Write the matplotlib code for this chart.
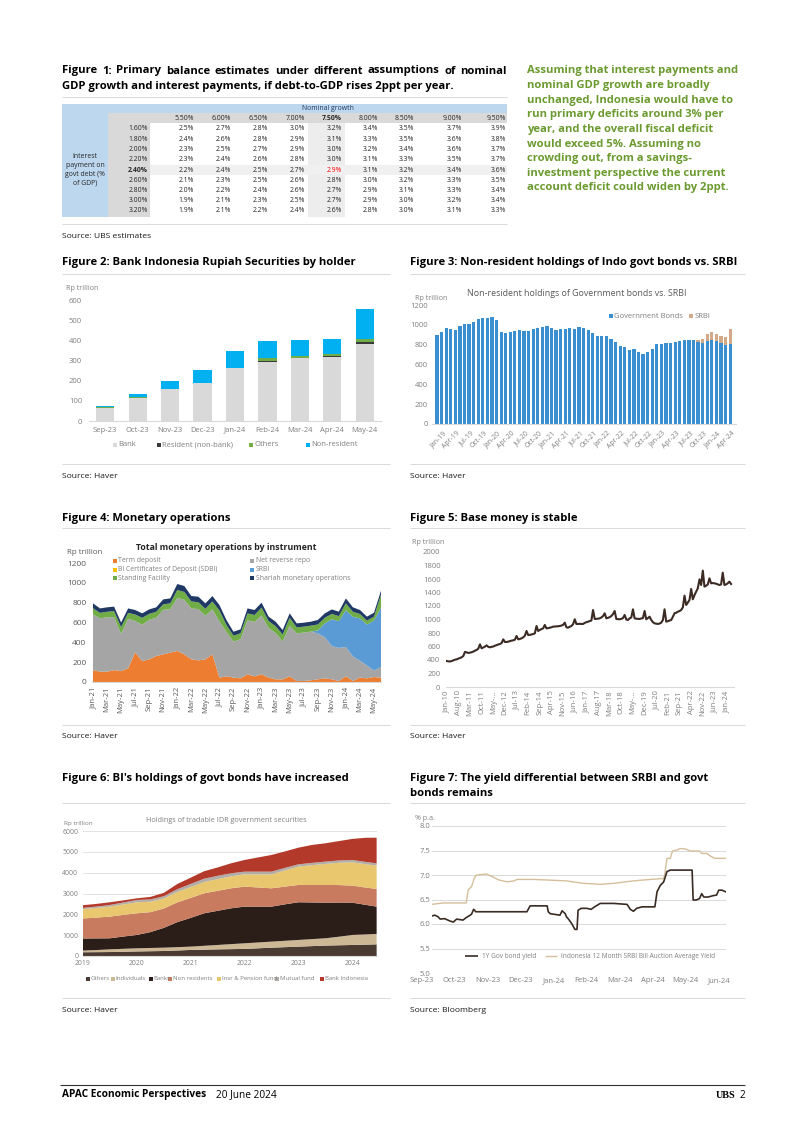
import matplotlib
matplotlib.use('Agg')
import matplotlib.pyplot as plt
import numpy as np
import calendar
from matplotlib.patches import Rectangle
from matplotlib.transforms import blended_transform_factory, ScaledTranslation

# ======================= DATA =======================
# Figure 1 table
growth_labels = ['5.50%', '6.00%', '6.50%', '7.00%', '7.50%', '8.00%', '8.50%', '9.00%', '9.50%']
interest_labels = ['1.60%', '1.80%', '2.00%', '2.20%', '2.40%', '2.60%', '2.80%', '3.00%', '3.20%']
primary_balance = [
    [2.5, 2.7, 2.8, 3.0, 3.2, 3.4, 3.5, 3.7, 3.9],
    [2.4, 2.6, 2.8, 2.9, 3.1, 3.3, 3.5, 3.6, 3.8],
    [2.3, 2.5, 2.7, 2.9, 3.0, 3.2, 3.4, 3.6, 3.7],
    [2.3, 2.4, 2.6, 2.8, 3.0, 3.1, 3.3, 3.5, 3.7],
    [2.2, 2.4, 2.5, 2.7, 2.9, 3.1, 3.2, 3.4, 3.6],
    [2.1, 2.3, 2.5, 2.6, 2.8, 3.0, 3.2, 3.3, 3.5],
    [2.0, 2.2, 2.4, 2.6, 2.7, 2.9, 3.1, 3.3, 3.4],
    [1.9, 2.1, 2.3, 2.5, 2.7, 2.9, 3.0, 3.2, 3.4],
    [1.9, 2.1, 2.2, 2.4, 2.6, 2.8, 3.0, 3.1, 3.3],
]
highlight_growth = '7.50%'
highlight_interest = '2.40%'

side_text = ["Assuming that interest payments and",
             "nominal GDP growth are broadly",
             "unchanged, Indonesia would have to",
             "run primary deficits around 3% per",
             "year, and the overall fiscal deficit",
             "would exceed 5%. Assuming no",
             "crowding out, from a savings-",
             "investment perspective the current",
             "account deficit could widen by 2ppt."]

# Figure 2
f2_months = ['Sep-23', 'Oct-23', 'Nov-23', 'Dec-23', 'Jan-24', 'Feb-24', 'Mar-24', 'Apr-24', 'May-24']
f2_bank = [66, 116, 158, 189, 263, 295, 310, 318, 382]
f2_resident = [0, 0, 0, 0, 0, 3, 3, 3, 11]
f2_others = [1, 1, 1, 1, 2, 13, 9, 10, 12]
f2_nonres = [5, 15, 39, 62, 84, 87, 81, 78, 150]

# Figure 3 (monthly Jan-19 .. May-24)
f3_gov_bonds = [895, 925, 965, 960, 945, 985, 1010, 1005, 1025, 1055, 1065, 1065,
                1075, 1045, 925, 920, 930, 935, 945, 935, 935, 955, 965, 975,
                985, 970, 950, 960, 955, 970, 960, 975, 965, 945, 920, 890,
                885, 890, 855, 825, 790, 780, 750, 760, 730, 705, 725, 760,
                805, 805, 815, 820, 825, 840, 850, 850, 845, 825, 815, 840,
                845, 840, 815, 795, 805]
f3_srbi = [0, 0, 0, 0, 0, 0, 0, 0, 0, 0, 0, 0,
           0, 0, 0, 0, 0, 0, 0, 0, 0, 0, 0, 0,
           0, 0, 0, 0, 0, 0, 0, 0, 0, 0, 0, 0,
           0, 0, 0, 0, 0, 0, 0, 0, 0, 0, 0, 0,
           0, 0, 0, 0, 0, 0, 0, 0, 0, 20, 45, 70,
           80, 65, 75, 80, 150]
f3_tick_labels = ['Jan-19', 'Apr-19', 'Jul-19', 'Oct-19', 'Jan-20', 'Apr-20', 'Jul-20', 'Oct-20',
                  'Jan-21', 'Apr-21', 'Jul-21', 'Oct-21', 'Jan-22', 'Apr-22', 'Jul-22', 'Oct-22',
                  'Jan-23', 'Apr-23', 'Jul-23', 'Oct-23', 'Jan-24', 'Apr-24']

# Figure 4 (monthly Jan-21 .. Jun-24)
f4_term_deposit = [120, 104, 104, 120, 110, 138, 300, 211, 228, 262, 279, 296,
                   313, 279, 228, 218, 228, 279, 44, 57, 44, 37, 77, 57,
                   77, 44, 27, 27, 57, 10, 10, 17, 27, 37, 27, 10,
                   57, 10, 44, 37, 50, 44]
f4_net_reverse_repo = [563, 538, 549, 535, 374, 499, 316, 366, 399, 386, 449, 437,
                       535, 549, 514, 517, 440, 453, 567, 448, 363, 394, 545, 549,
                       593, 500, 466, 382, 510, 481, 488, 491, 463, 415, 335, 334,
                       296, 248, 170, 129, 65, 106]
f4_sdbi = [0, 0, 0, 0, 0, 0, 0, 0, 0, 0, 0, 0, 0, 0, 0, 0, 0, 0, 0, 0, 0,
           0, 0, 0, 0, 0, 0, 0, 0, 0, 0, 0, 0, 0, 0, 0, 0, 0, 0, 0, 0, 0]
f4_srbi = [0, 0, 0, 0, 0, 0, 0, 0, 0, 0, 0, 0, 0, 0, 0, 0, 0, 0, 0, 0, 0,
           0, 0, 0, 0, 0, 0, 0, 0, 0, 0, 0, 30, 140, 270, 270, 370, 400, 427, 413, 504, 600]
f4_standing_facility = [60, 55, 55, 60, 70, 60, 65, 70, 60, 60, 55, 60,
                        80, 80, 70, 70, 70, 80, 110, 70, 60, 60, 70, 70,
                        80, 70, 70, 70, 80, 60, 60, 60, 60, 55, 55, 50,
                        70, 50, 45, 40, 40, 130]
f4_shariah = [50, 45, 45, 45, 45, 45, 45, 45, 45, 45, 50, 50,
              60, 60, 55, 55, 55, 55, 55, 50, 40, 40, 50, 50,
              50, 45, 45, 45, 45, 40, 40, 40, 45, 45, 45, 45,
              50, 45, 40, 40, 40, 40]
f4_tick_labels = ['Jan-21', 'Mar-21', 'May-21', 'Jul-21', 'Sep-21', 'Nov-21', 'Jan-22', 'Mar-22',
                  'May-22', 'Jul-22', 'Sep-22', 'Nov-22', 'Jan-23', 'Mar-23', 'May-23', 'Jul-23',
                  'Sep-23', 'Nov-23', 'Jan-24', 'Mar-24', 'May-24']

# Figure 5 (monthly Jan-10 .. Apr-24)
f5_base_money = [385, 380, 378, 385, 395, 405, 410, 420, 430, 440, 460, 520,
                 512, 505, 509, 515, 525, 538, 550, 568, 632, 573, 585, 598,
                 617, 595, 588, 595, 600, 612, 620, 630, 637, 650, 706, 667,
                 667, 672, 680, 687, 692, 700, 756, 706, 712, 721, 735, 760,
                 830, 770, 772, 778, 785, 795, 904, 830, 845, 858, 869, 919,
                 869, 872, 878, 885, 894, 896, 898, 900, 904, 910, 920, 953,
                 884, 880, 892, 904, 930, 1003, 934, 934, 936, 934, 934, 950,
                 960, 968, 975, 985, 1141, 1008, 1010, 1012, 1017, 1030, 1050, 1092,
                 1017, 1025, 1035, 1052, 1080, 1126, 1008, 1005, 1003, 1010, 1020, 1067,
                 1000, 993, 1017, 1030, 1151, 1017, 1012, 1010, 1008, 1015, 1020, 1126,
                 1003, 1020, 1042, 993, 960, 943, 938, 934, 940, 953, 993, 1151,
                 968, 975, 985, 993, 1040, 1092, 1100, 1116, 1125, 1141, 1180, 1353,
                 1215, 1250, 1289, 1452, 1299, 1360, 1413, 1462, 1595, 1511, 1724, 1487,
                 1500, 1520, 1610, 1536, 1540, 1536, 1530, 1521, 1511, 1520, 1694, 1511,
                 1520, 1536, 1561, 1526]
f5_tick_labels = ['Jan-10', 'Aug-10', 'Mar-11', 'Oct-11', 'May-...', 'Dec-12', 'Jul-13', 'Feb-14',
                  'Sep-14', 'Apr-15', 'Nov-15', 'Jun-16', 'Jan-17', 'Aug-17', 'Mar-18', 'Oct-18',
                  'May-...', 'Dec-19', 'Jul-20', 'Feb-21', 'Sep-21', 'Apr-22', 'Nov-22', 'Jun-23', 'Jan-24']

# Figure 6 (Rp trillion, quarterly readings)
f6_dates = ['2019-01-01', '2019-04-01', '2019-07-01', '2019-10-01', '2020-01-01', '2020-04-01',
            '2020-07-01', '2020-10-01', '2021-01-01', '2021-04-01', '2021-07-01', '2021-10-01',
            '2022-01-01', '2022-04-01', '2022-07-01', '2022-10-01', '2023-01-01', '2023-04-01',
            '2023-07-01', '2023-10-01', '2024-01-01', '2024-04-01', '2024-06-14']
f6_others = [180, 185, 190, 205, 220, 230, 240, 265, 290, 305, 320, 330,
             340, 370, 400, 425, 450, 475, 500, 515, 530, 545, 560]
f6_individuals = [80, 100, 130, 140, 150, 155, 160, 160, 160, 185, 210, 240,
                  270, 280, 290, 305, 320, 335, 350, 410, 480, 490, 500]
f6_banks = [580, 560, 530, 590, 640, 760, 950, 1200, 1380, 1560, 1640, 1720,
            1760, 1720, 1680, 1750, 1810, 1760, 1710, 1640, 1550, 1420, 1310]
f6_non_residents = [960, 1000, 1040, 1040, 1040, 960, 930, 950, 960, 960, 960, 960,
                    960, 920, 880, 850, 830, 840, 850, 840, 820, 830, 850]
f6_insurance_pension = [450, 460, 480, 500, 530, 500, 480, 500, 520, 540, 560, 575,
                        590, 630, 670, 780, 880, 950, 1010, 1070, 1120, 1120, 1120]
f6_mutual_fund = [60, 70, 80, 95, 110, 110, 110, 130, 150, 160, 160, 145,
                  130, 130, 130, 120, 110, 110, 110, 110, 110, 110, 110]
f6_bank_indonesia = [130, 125, 130, 100, 80, 120, 160, 250, 300, 360, 400, 480,
                     560, 680, 800, 790, 800, 860, 880, 930, 1010, 1160, 1230]
f6_years = ['2019', '2020', '2021', '2022', '2023', '2024']

# Figure 7 (% p.a.)
f7_gov_dates = ['2023-09-10', '2023-09-13', '2023-09-16', '2023-09-18', '2023-09-22', '2023-09-27',
                '2023-09-30', '2023-10-03', '2023-10-06', '2023-10-09', '2023-10-12', '2023-10-15',
                '2023-10-17', '2023-10-19', '2023-10-21', '2023-12-07', '2023-12-10', '2023-12-26',
                '2023-12-27', '2023-12-29', '2024-01-04', '2024-01-07', '2024-01-09', '2024-01-12',
                '2024-01-13', '2024-01-15', '2024-01-18', '2024-01-21', '2024-01-23', '2024-01-24',
                '2024-01-27', '2024-02-01', '2024-02-05', '2024-02-08', '2024-02-13', '2024-02-25',
                '2024-03-08', '2024-03-11', '2024-03-14', '2024-03-17', '2024-03-22', '2024-04-03',
                '2024-04-05', '2024-04-08', '2024-04-11', '2024-04-12', '2024-04-14', '2024-04-17',
                '2024-05-07', '2024-05-08', '2024-05-11', '2024-05-14', '2024-05-16', '2024-05-18',
                '2024-05-22', '2024-05-27', '2024-05-30', '2024-06-01', '2024-06-04', '2024-06-07']
f7_gov_yield = [6.16, 6.18, 6.15, 6.10, 6.11, 6.06, 6.04, 6.10, 6.09, 6.08, 6.13, 6.17,
                6.20, 6.30, 6.25, 6.25, 6.37, 6.37, 6.25, 6.21, 6.19, 6.18, 6.27, 6.21,
                6.15, 6.10, 6.01, 5.89, 5.89, 6.28, 6.32, 6.32, 6.30, 6.35, 6.42, 6.42,
                6.40, 6.30, 6.26, 6.32, 6.35, 6.35, 6.66, 6.79, 6.86, 6.93, 7.07, 7.10,
                7.10, 6.49, 6.49, 6.52, 6.62, 6.55, 6.55, 6.58, 6.59, 6.69, 6.69, 6.66]
f7_srbi_dates = ['2023-09-10', '2023-09-21', '2023-10-12', '2023-10-14', '2023-10-17', '2023-10-20',
                 '2023-10-22', '2023-10-31', '2023-11-06', '2023-11-11', '2023-11-19', '2023-11-25',
                 '2023-11-28', '2023-12-13', '2024-01-13', '2024-01-29', '2024-02-13', '2024-02-25',
                 '2024-03-14', '2024-03-30', '2024-04-11', '2024-04-12', '2024-04-14', '2024-04-17',
                 '2024-04-19', '2024-04-23', '2024-04-26', '2024-05-01', '2024-05-05', '2024-05-14',
                 '2024-05-16', '2024-05-21', '2024-05-24', '2024-05-28', '2024-06-07']
f7_srbi_yield = [6.40, 6.43, 6.43, 6.70, 6.76, 6.96, 7.00, 7.02, 6.96, 6.90, 6.86, 6.88,
                 6.91, 6.91, 6.88, 6.83, 6.81, 6.83, 6.88, 6.91, 6.93, 7.02, 7.34, 7.34,
                 7.49, 7.51, 7.54, 7.53, 7.49, 7.49, 7.44, 7.44, 7.39, 7.34, 7.34]
f7_tick_labels = ['Sep-23', 'Oct-23', 'Nov-23', 'Dec-23', 'Jan-24', 'Feb-24', 'Mar-24',
                  'Apr-24', 'May-24', 'Jun-24']

# ======================= PAGE SETUP =======================
W, H = 802, 1134
plt.rcParams['font.family'] = ['Open Sans', 'DejaVu Sans']
fig = plt.figure(figsize=(W / 100, H / 100), dpi=100)
fig.patch.set_facecolor('white')
page = fig.add_axes([0, 0, 1, 1], zorder=10)
page.set_xlim(0, W)
page.set_ylim(H, 0)
page.axis('off')
R = fig.canvas.get_renderer()


def tw(s, fs, weight='normal'):
    t = page.text(0, 0, s, fontsize=fs, fontweight=weight)
    w = t.get_window_extent(R).width
    t.remove()
    return w


def fit(s, target, weight='normal'):
    return 10.0 * target / tw(s, 10, weight)


def T(x, y, s, fs, weight='normal', color='#000000', ha='left', va='center', **kw):
    return page.text(x, y, s, fontsize=fs, fontweight=weight, color=color, ha=ha, va=va, **kw)


def hline(x0, x1, y, color='#D9D9D9', lw=0.7):
    page.plot([x0, x1], [y, y], color=color, lw=lw, solid_capstyle='butt')


def px_axes(x0, y0, x1, y1):
    ax = fig.add_axes([x0 / W, 1 - y1 / H, (x1 - x0) / W, (y1 - y0) / H])
    ax.set_facecolor('none')
    for s in ax.spines.values():
        s.set_visible(False)
    ax.tick_params(length=0)
    return ax


def leg_sq(x, y, color, label, fs, size=4.0, gap=1.5, tcolor='#595959'):
    page.add_patch(Rectangle((x - size / 2, y - size / 2), size, size, color=color, lw=0))
    T(x + size / 2 + gap, y, label, fs, color=tcolor)


def leg_line(x0, x1, y, color, label, fs, lw=1.3, tcolor='#7F7F7F'):
    page.plot([x0, x1], [y, y], color=color, lw=lw, solid_capstyle='butt')
    T(x1 + 4, y, label, fs, color=tcolor)


def month_pos(d, y0=2023, m0=9):
    y, m, dd = (int(v) for v in d.split('-'))
    return (y - y0) * 12 + (m - m0) + (dd - 1) / calendar.monthrange(y, m)[1]


def year_frac(d):
    y, m, dd = (int(v) for v in d.split('-'))
    return y + (m - 1) / 12 + (dd - 1) / 365


title_fs = fit('Figure 2: Bank Indonesia Rupiah Securities by holder', 295, 'bold')
src_fs = fit('Source: Haver', 55)
tick_fs = fit('Sep-23', 24)
small_fs = fit('Rp trillion', 32)
table_fs = fit('1.60%', 19.5)
green_fs = fit('Assuming that interest payments and', 213, 'bold')
GREY = '#7F7F7F'
DGREY = '#595959'

# ======================= FIGURE 1 =======================
words = 'Figure 1: Primary balance estimates under different assumptions of nominal'.split()
widths = [tw(w, title_fs, 'bold') for w in words]
gap = (507 - 62 - sum(widths)) / (len(words) - 1)
x = 62
for w, wd in zip(words, widths):
    T(x, 71, w, title_fs, 'bold')
    x += wd + gap
T(62, 86, 'GDP growth and interest payments, if debt-to-GDP rises 2ppt per year.', title_fs, 'bold')
hline(62, 507, 97)

BLUE = '#BDD7EE'
TGREY = '#D9D9D9'
page.add_patch(Rectangle((62, 104), 445, 9, color=BLUE, lw=0))
page.add_patch(Rectangle((62, 113), 46, 104, color=BLUE, lw=0))
page.add_patch(Rectangle((108, 113), 399, 10, color=TGREY, lw=0))
page.add_patch(Rectangle((108, 123), 42, 94, color=TGREY, lw=0))
col_right = [194, 231, 268, 305, 342, 378, 414, 462, 506]
row_y = [129 + 10.25 * i for i in range(len(interest_labels))]
hc = growth_labels.index(highlight_growth)
hr = interest_labels.index(highlight_interest)
page.add_patch(Rectangle((308, 123), 37, 94, color='#EDEDED', lw=0))
page.add_patch(Rectangle((150, row_y[hr] - 5.1), 357, 10.2, color='#F0F0F0', lw=0))
T(328, 108.5, 'Nominal growth', table_fs, color='#1F3864', ha='center')
for j, g in enumerate(growth_labels):
    T(col_right[j], 118, g, table_fs, weight='bold' if j == hc else 'normal', color='#262626', ha='right')
for i, lab in enumerate(interest_labels):
    T(148, row_y[i], lab, table_fs, weight='bold' if i == hr else 'normal', color='#262626', ha='right')
    for j, v in enumerate(primary_balance[i]):
        c = '#FF0000' if (i == hr and j == hc) else '#262626'
        T(col_right[j], row_y[i], f'{v:.1f}%', table_fs, color=c, ha='right')
T(85, 170, 'Interest\npayment on\ngovt debt (%\nof GDP)', table_fs, color='#262626', ha='center',
  linespacing=1.35)
hline(62, 507, 224)
T(62, 236, 'Source: UBS estimates', src_fs, color='#1A1A1A')

for i, line in enumerate(side_text):
    T(527, 71 + 14.6 * i, line, green_fs, 'bold', color='#6B9A2F')

# ======================= FIGURE 2 =======================
T(62, 263, 'Figure 2: Bank Indonesia Rupiah Securities by holder', title_fs, 'bold')
hline(62, 390, 274)
ax2 = px_axes(89, 300, 381, 421)
x2 = np.arange(len(f2_months))
b = np.zeros(len(f2_months))
for vals, col in [(f2_bank, '#D9D9D9'), (f2_resident, '#3A3A3A'), (f2_others, '#70AD47'),
                  (f2_nonres, '#00B0F0')]:
    ax2.bar(x2, vals, 0.56, bottom=b, color=col, lw=0)
    b = b + np.array(vals)
ax2.set_xlim(-0.5, len(f2_months) - 0.5)
ax2.set_ylim(0, 600)
ax2.set_yticks(range(0, 601, 100))
ax2.set_yticklabels([str(v) for v in range(0, 601, 100)], fontsize=tick_fs, color=GREY)
ax2.set_xticks(x2)
ax2.set_xticklabels(f2_months, fontsize=tick_fs, color=GREY)
ax2.tick_params(axis='y', pad=5)
ax2.tick_params(axis='x', pad=4)
ax2.spines['bottom'].set_visible(True)
ax2.spines['bottom'].set_color('#D9D9D9')
T(66, 289, 'Rp trillion', small_fs, color=GREY)
for xx, col, lab in [(115, '#D9D9D9', 'Bank'), (159, '#3A3A3A', 'Resident (non-bank)'),
                     (251, '#70AD47', 'Others'), (308, '#00B0F0', 'Non-resident')]:
    leg_sq(xx, 445, col, lab, tick_fs, tcolor=GREY)
hline(62, 390, 464)
T(62, 476, 'Source: Haver', src_fs, color='#1A1A1A')

# ======================= FIGURE 3 =======================
T(410, 263, 'Figure 3: Non-resident holdings of Indo govt bonds vs. SRBI', title_fs, 'bold')
hline(410, 745, 274)
ax3 = px_axes(432, 305, 736, 424)
x3 = np.arange(len(f3_gov_bonds))
ax3.bar(x3, f3_gov_bonds, 0.7, color='#3A8FD0', lw=0)
ax3.bar(x3, f3_srbi, 0.7, bottom=f3_gov_bonds, color='#D4A98A', lw=0)
ax3.set_xlim((432 - 437) / 4.58, (736 - 437) / 4.58)
ax3.set_ylim(0, 1200)
ax3.set_yticks(range(0, 1201, 200))
ax3.set_yticklabels([str(v) for v in range(0, 1201, 200)], fontsize=tick_fs, color=GREY)
ax3.tick_params(axis='y', pad=3)
ax3.set_xticks([])
ax3.spines['bottom'].set_visible(True)
ax3.spines['bottom'].set_color('#D9D9D9')
tr3 = blended_transform_factory(ax3.transData, ax3.transAxes) + ScaledTranslation(0.08, -0.08, fig.dpi_scale_trans)
lab_fs3 = fit('Jan-19', 20)
for k, lab in enumerate(f3_tick_labels):
    ax3.text(3 * k, 0, lab, transform=tr3, rotation=45, ha='right', va='center',
             rotation_mode='anchor', fontsize=lab_fs3, color=GREY)
T(577, 293, 'Non-resident holdings of Government bonds vs. SRBI', fit('Non-resident holdings of Government bonds vs. SRBI', 219),
  color=DGREY, ha='center')
T(415, 298, 'Rp trillion', small_fs, color=GREY)
leg_sq(611, 316, '#3A8FD0', 'Government Bonds', tick_fs, tcolor=GREY)
leg_sq(691, 316, '#D4A98A', 'SRBI', tick_fs, tcolor=GREY)
hline(410, 745, 464)
T(410, 476, 'Source: Haver', src_fs, color='#1A1A1A')

# ======================= FIGURE 4 =======================
T(62, 518, 'Figure 4: Monetary operations', title_fs, 'bold')
hline(62, 390, 528)
ax4 = px_axes(92, 563, 381, 682)
x4 = np.arange(len(f4_term_deposit))
c4 = ['#ED7D31', '#A5A5A5', '#FFC000', '#5B9BD5', '#70AD47', '#203864']
ax4.stackplot(x4, f4_term_deposit, f4_net_reverse_repo, f4_sdbi, f4_srbi, f4_standing_facility,
              f4_shariah, colors=c4, lw=0)
ax4.set_xlim(-1 / 7, 288 / 7 - 1 / 7)
ax4.set_ylim(0, 1200)
ax4.set_yticks(range(0, 1201, 200))
ax4.set_yticklabels([str(v) for v in range(0, 1201, 200)], fontsize=tick_fs * 1.1, color=DGREY)
ax4.tick_params(axis='y', pad=4)
ax4.set_xticks(range(0, len(x4), 2))
ax4.set_xticklabels(f4_tick_labels, rotation=90, fontsize=tick_fs, color=DGREY)
ax4.tick_params(axis='x', pad=3.5)
ax4.spines['bottom'].set_visible(True)
ax4.spines['bottom'].set_color('#D9D9D9')
T(226, 548, 'Total monetary operations by instrument',
  fit('Total monetary operations by instrument', 182, 'bold'), 'bold', color='#262626', ha='center')
T(67, 553, 'Rp trillion', small_fs * 1.1, color=DGREY)
lf4 = fit('Shariah monetary operations', 94)
leg4 = [(115, 561, c4[0], 'Term deposit'), (252, 561, c4[1], 'Net reverse repo'),
        (115, 569.5, c4[2], 'BI Certificates of Deposit (SDBI)'), (252, 569.5, c4[3], 'SRBI'),
        (115, 578, c4[4], 'Standing Facility'), (252, 578, c4[5], 'Shariah monetary operations')]
for xx, yy, col, lab in leg4:
    leg_sq(xx, yy, col, lab, lf4, tcolor=GREY)
hline(62, 390, 725)
T(62, 736, 'Source: Haver', src_fs, color='#1A1A1A')

# ======================= FIGURE 5 =======================
T(410, 518, 'Figure 5: Base money is stable', title_fs, 'bold')
hline(410, 745, 528)
ax5 = px_axes(446, 552, 734, 687)
x5 = np.arange(len(f5_base_money))
ax5.plot(x5, f5_base_money, color='#3B2B24', lw=1.5)
ax5.set_xlim(-0.7 / 1.663, (734 - 446.7) / 1.663)
ax5.set_ylim(0, 2000)
ax5.set_yticks(range(0, 2001, 200))
ax5.set_yticklabels([str(v) for v in range(0, 2001, 200)], fontsize=tick_fs, color=GREY)
ax5.tick_params(axis='y', pad=4)
ax5.set_xticks(range(0, len(x5), 7))
ax5.set_xticklabels(f5_tick_labels, rotation=90, fontsize=tick_fs, color=GREY)
ax5.tick_params(axis='x', pad=2.5)
ax5.spines['bottom'].set_visible(True)
ax5.spines['bottom'].set_color('#D9D9D9')
T(412, 542, 'Rp trillion', small_fs, color=GREY)
hline(410, 745, 725)
T(410, 736, 'Source: Haver', src_fs, color='#1A1A1A')

# ======================= FIGURE 6 =======================
T(62, 778, "Figure 6: BI's holdings of govt bonds have increased", title_fs, 'bold')
hline(62, 390, 803)
ax6 = px_axes(83, 831, 377, 956)
x6 = [year_frac(d) for d in f6_dates]
c6 = ['#4A3B32', '#CDB896', '#2B1E19', '#C97B5F', '#E8C76E', '#B3ADA8', '#B33A2B']
ax6.stackplot(x6, f6_others, f6_individuals, f6_banks, f6_non_residents, f6_insurance_pension,
              f6_mutual_fund, f6_bank_indonesia, colors=c6, lw=0)
ax6.set_xlim(2019, 2019 + (377 - 83.3) / 53.8)
ax6.set_ylim(0, 6000)
ax6.set_yticks(range(0, 6001, 1000))
ax6.set_yticklabels([str(v) for v in range(0, 6001, 1000)], fontsize=tick_fs * 0.9, color=GREY)
ax6.tick_params(axis='y', pad=3.5)
ax6.grid(axis='y', color='#E3E3E3', lw=0.7)
ax6.set_axisbelow(True)
ax6.set_xticks([int(y) for y in f6_years])
ax6.set_xticklabels(f6_years, fontsize=tick_fs * 0.9, color=GREY)
ax6.tick_params(axis='x', pad=3)
ax6.spines['bottom'].set_visible(True)
ax6.spines['bottom'].set_color('#D9D9D9')
T(226, 821, 'Holdings of tradable IDR government securities',
  fit('Holdings of tradable IDR government securities', 160), color=GREY, ha='center')
T(64, 823, 'Rp trillion', small_fs * 0.9, color=GREY)
lf6 = fit('Others', 19)
leg6 = [(88, 'Others'), (113, 'Individuals'), (151, 'Banks'), (170, 'Non residents'),
        (219, 'Insr & Pension fund'), (277, 'Mutual fund'), (322, 'Bank Indonesia')]
for (xx, lab), col in zip(leg6, c6):
    leg_sq(xx, 979, col, lab, lf6, size=3.5, gap=0.8, tcolor=GREY)
hline(62, 390, 998)
T(62, 1010, 'Source: Haver', src_fs, color='#1A1A1A')

# ======================= FIGURE 7 =======================
T(410, 778, 'Figure 7: The yield differential between SRBI and govt', title_fs, 'bold')
T(410, 793, 'bonds remains', title_fs, 'bold')
hline(410, 745, 803)
ax7 = px_axes(432, 826, 726, 973)
xg = [month_pos(d) for d in f7_gov_dates]
xs = [month_pos(d) for d in f7_srbi_dates]
ax7.plot(xs, f7_srbi_yield, color='#D6BE9C', lw=1.0)
ax7.plot(xg, f7_gov_yield, color='#3A2C24', lw=1.2)
ax7.set_xlim(0.32, 9.22)
ax7.set_ylim(5, 8)
yt = np.arange(5.0, 8.01, 0.5)
ax7.set_yticks(yt)
ax7.set_yticklabels([f'{v:.1f}' for v in yt], fontsize=tick_fs, color=GREY)
ax7.tick_params(axis='y', pad=1.5)
ax7.grid(axis='y', color='#D9D9D9', lw=0.7)
ax7.set_xticks([])
tr7 = blended_transform_factory(ax7.transData, ax7.transAxes) + ScaledTranslation(0, -0.08, fig.dpi_scale_trans)
for k, lab in enumerate(f7_tick_labels):
    ax7.text(k, 0, lab, transform=tr7, ha='center', va='center', fontsize=tick_fs, color=GREY)
T(415, 818, '% p.a.', small_fs, color=GREY)
lf7 = fit('Indonesia 12 Month SRBI Bill Auction Average Yield', 155)
leg_line(465, 478, 956, '#3A2C24', '1Y Gov bond yield', lf7, lw=1.2)
leg_line(545, 557, 956, '#D6BE9C', 'Indonesia 12 Month SRBI Bill Auction Average Yield', lf7, lw=1.0)
hline(410, 745, 998)
T(410, 1010, 'Source: Bloomberg', src_fs, color='#1A1A1A')

# ======================= FOOTER =======================
hline(60, 745, 1085, color='#333333', lw=0.8)
foot_fs = fit('APAC Economic Perspectives', 143, 'bold')
T(62, 1095, 'APAC Economic Perspectives', foot_fs, 'bold')
T(216, 1095, '20 June 2024', foot_fs)
page.text(735, 1095, 'UBS', fontsize=foot_fs, fontweight='bold', family='Liberation Serif', ha='right', va='center')
T(745, 1095, '2', foot_fs, ha='right')

fig.savefig('out.png', dpi=100, facecolor='white')
